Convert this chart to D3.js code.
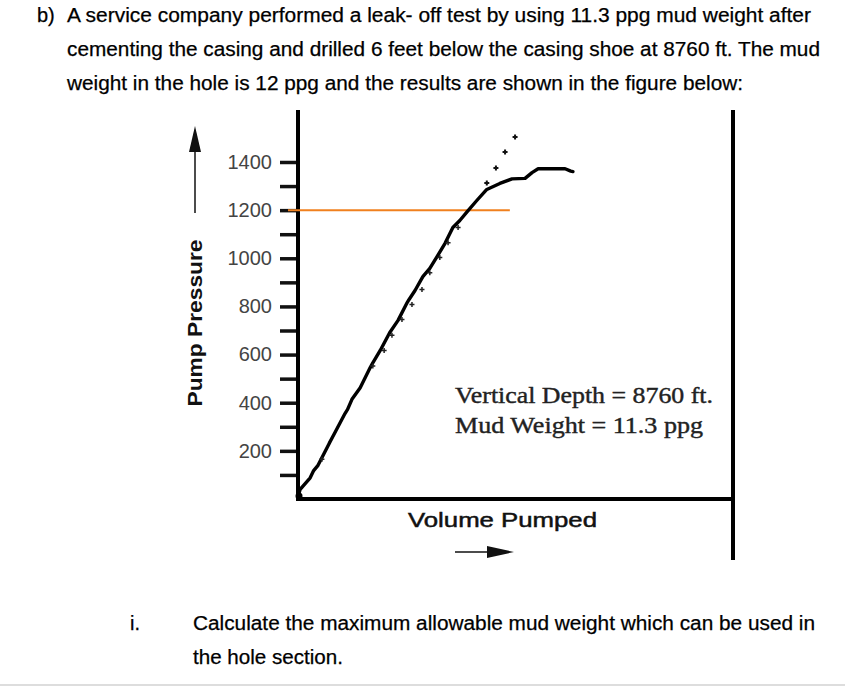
<!DOCTYPE html>
<html><head><meta charset="utf-8">
<script src="https://cdn.jsdelivr.net/npm/d3@7"></script>
<style>
html,body{margin:0;padding:0;background:#fff;}
svg{display:block;}
</style></head>
<body>
<svg id="c" width="845" height="687"></svg>
<script>
// ---- data ----
const yTickValues = [100,200,300,400,500,600,700,800,900,1000,1100,1200,1300,1400];
const yTickLabels = {200:"200",400:"400",600:"600",800:"800",1000:"1000",1200:"1200",1400:"1400"};
// main leak-off curve: volume pumped (arbitrary units) vs pump pressure (psi)
const curveVolume   = [0,0.05,0.28,0.36,0.46,0.67,0.72,0.85,1.08,1.14,1.24,1.43,1.66,1.72,1.89,2.11,2.30,2.51,2.55,2.69,2.87,3.03,3.20,3.38,3.56,3.72,3.89,4.11,4.34,4.64,4.92,5.22,5.38,5.52,6.14,6.27,6.32];
const curvePressure = [10,40,88,118,140,214,232,276,355,372,414,462,546,566,617,692,742,816,828,866,924,958,1008,1062,1128,1157,1194,1240,1286,1311,1330,1332,1356,1372,1372,1362,1360];
// extrapolated straight-line points (dots)
const dotVolume   = [4.34,4.55,4.76,4.99];
const dotPressure = [1313,1375,1442,1504];
// individual measured points (small crosses)
const crossVolume   = [0.55,1.72,1.98,2.16,2.39,2.62,2.85,3.03,3.26,3.45,3.68];
const crossPressure = [165,552,617,680,746,808,870,940,1003,1065,1128];
// leak-off pressure line
const lopPressure = 1200;
const lopVolume = [-0.23, 4.87];

const headerLines = [
  "A service company performed a leak- off test by using 11.3 ppg mud weight after",
  "cementing the casing and drilled 6 feet below the casing shoe at 8760 ft. The mud",
  "weight in the hole is 12 ppg and the results are shown in the figure below:"
];
const questionLines = [
  "Calculate the maximum allowable mud weight which can be used in",
  "the hole section."
];
const infoLines = ["Vertical Depth = 8760 ft.", "Mud Weight = 11.3 ppg"];

// ---- scales ----
const svg = d3.select("#c");
const x = d3.scaleLinear().domain([0,10]).range([298,733]);
const y = d3.scaleLinear().domain([0,1616]).range([499,110]);

// ---- header text ----
const hdr = svg.append("g").attr("font-family","'Liberation Sans', Arial, sans-serif").attr("font-size",20)
  .attr("fill","#000").attr("stroke","#000").attr("stroke-width",0.25);
hdr.append("text").attr("x",37).attr("y",22).text("b)");
const hdrLens = [744,753,676];
const hdrY = [22,56,90];
headerLines.forEach((t,i)=>{
  hdr.append("text").attr("x",67).attr("y",hdrY[i]).attr("textLength",hdrLens[i]).attr("lengthAdjust","spacingAndGlyphs").text(t);
});
hdr.append("text").attr("x",130).attr("y",630).text("i.");
const qLens=[622,150], qY=[630,664];
questionLines.forEach((t,i)=>{
  hdr.append("text").attr("x",193).attr("y",qY[i]).attr("textLength",qLens[i]).attr("lengthAdjust","spacingAndGlyphs").text(t);
});
svg.append("line").attr("x1",0).attr("x2",845).attr("y1",685).attr("y2",685).attr("stroke","#ddd").attr("stroke-width",2);

// ---- y axis ----
const yAxis = d3.axisLeft(y).tickValues(yTickValues).tickSize(18).tickPadding(8)
  .tickFormat(d => yTickLabels[d] || "");
const ga = svg.append("g").attr("transform",`translate(${x(0)},0)`).call(yAxis);
ga.select(".domain").remove();
ga.selectAll(".tick line").attr("stroke","#111").attr("stroke-width",3.5);
ga.selectAll(".tick text").attr("font-family","'Liberation Sans', Arial, sans-serif").attr("font-size",20).attr("fill","#444");

// axis frame lines
svg.append("line").attr("x1",x(0)).attr("x2",x(0)).attr("y1",y.range()[1]).attr("y2",y(0)+2)
  .attr("stroke","#000").attr("stroke-width",4);
svg.append("line").attr("x1",x(0)).attr("x2",x(10)).attr("y1",y(0)).attr("y2",y(0))
  .attr("stroke","#000").attr("stroke-width",4);
svg.append("line").attr("x1",x(10)).attr("x2",x(10)).attr("y1",y.range()[1]).attr("y2",560)
  .attr("stroke","#000").attr("stroke-width",4);

// ---- orange leak-off line ----
svg.append("line").attr("x1",x(lopVolume[0])).attr("x2",x(lopVolume[1]))
  .attr("y1",y(lopPressure)).attr("y2",y(lopPressure))
  .attr("stroke","#f0801e").attr("stroke-width",2);

// ---- curve ----
const pts = curveVolume.map((v,i)=>[v,curvePressure[i]]);
svg.append("path").datum(pts)
  .attr("d", d3.line().x(d=>x(d[0])).y(d=>y(d[1])))
  .attr("fill","none").attr("stroke","#000").attr("stroke-width",3.4).attr("stroke-linejoin","round").attr("stroke-linecap","round");
svg.append("circle").attr("cx",x(0)+1).attr("cy",y(0)-3).attr("r",3.5).attr("fill","#000");

// crosses
const crossPath = "M-2.5,0H2.5M0,-2.5V2.5";
svg.append("g").selectAll("path").data(crossVolume.map((v,i)=>[v,crossPressure[i]])).join("path")
  .attr("transform",d=>`translate(${x(d[0])},${y(d[1])})`).attr("d",crossPath)
  .attr("stroke","#222").attr("stroke-width",1.5);
svg.append("g").selectAll("path").data(dotVolume.map((v,i)=>[v,dotPressure[i]])).join("path")
  .attr("transform",d=>`translate(${x(d[0])},${y(d[1])})`).attr("d","M-2.5,0H2.5M0,-2.5V2.5")
  .attr("stroke","#111").attr("stroke-width",2);

// ---- info text ----
const info = svg.append("g").attr("font-family","'Liberation Serif','Times New Roman',serif").attr("font-size",23)
  .attr("fill","#222").attr("stroke","#222").attr("stroke-width",0.4);
const infoLens=[258,248], infoY=[403,433];
infoLines.forEach((t,i)=>{
  info.append("text").attr("x",455).attr("y",infoY[i]).attr("textLength",infoLens[i]).attr("lengthAdjust","spacingAndGlyphs").text(t);
});

// ---- axis titles ----
svg.append("text").attr("transform","translate(202,323) rotate(-90)").attr("text-anchor","middle")
  .attr("font-family","'Liberation Sans', Arial, sans-serif").attr("font-weight","bold").attr("font-size",21)
  .attr("textLength",167).attr("lengthAdjust","spacingAndGlyphs").attr("fill","#111").text("Pump Pressure");
// up arrow
svg.append("line").attr("x1",195).attr("x2",195).attr("y1",213).attr("y2",145).attr("stroke","#111").attr("stroke-width",1.5);
svg.append("path").attr("d","M195,126 L189,152 L201,152 Z").attr("fill","#111");

svg.append("text").attr("x",408).attr("y",527)
  .attr("font-family","'Liberation Sans', Arial, sans-serif").attr("font-size",21)
  .attr("stroke","#111").attr("stroke-width",0.5)
  .attr("textLength",189).attr("lengthAdjust","spacingAndGlyphs").attr("fill","#111").text("Volume Pumped");
svg.append("line").attr("x1",455).attr("x2",495).attr("y1",552).attr("y2",552).attr("stroke","#111").attr("stroke-width",1.5);
svg.append("path").attr("d","M514,552 L487,546 L487,558 Z").attr("fill","#111");
</script>
</body></html>
